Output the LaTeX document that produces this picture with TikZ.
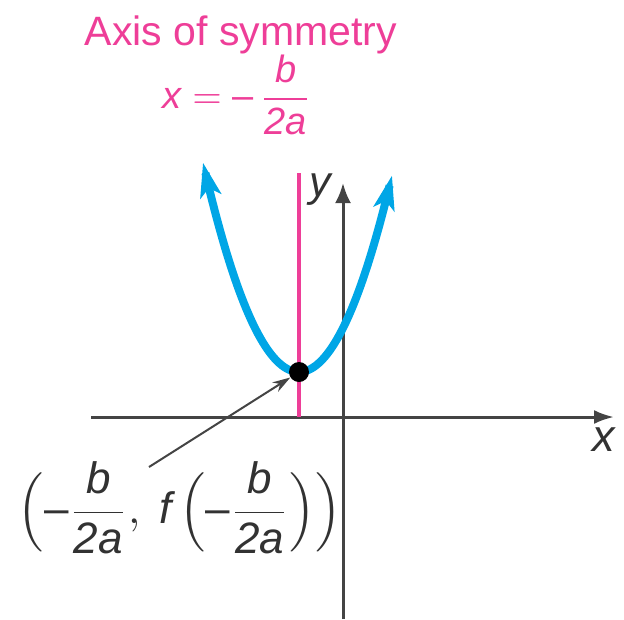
\documentclass[tikz,border=0pt]{standalone}
\usepackage{fontspec}
\setmainfont{Liberation Sans}
\usetikzlibrary{arrows.meta}
\definecolor{pinkc}{RGB}{238,62,152}
\definecolor{bluec}{RGB}{0,166,230}
\definecolor{axisc}{RGB}{68,68,68}
\definecolor{labc}{RGB}{50,50,50}
\newcommand{\mymin}{\mbox{\textendash}}
\begin{document}
\begin{tikzpicture}[x=1pt,y=-1pt,
  axisline/.style={draw=axisc, line width=3pt},
  pinktext/.style={text=pinkc, inner sep=0pt},
  graytext/.style={text=labc, inner sep=0pt}]
\useasboundingbox (0,0) rectangle (624,619);
% title
\node[pinktext, scale=4.1, anchor=base] (title) at (241,45) {Axis of symmetry};
\node[pinktext, scale=3.8] (axeq) at (237,95) {$\displaystyle\textit{x} = \mymin\,\frac{\textit{b}}{\textit{2a}}$};
% axes
\coordinate (xl) at (91,417);
\coordinate (xr) at (614,417);
\coordinate (yb) at (343,619);
\coordinate (yt) at (343,183);
\draw[axisline, -{Latex[length=20pt,width=14pt]}] (xl) -- (xr);
\draw[axisline, -{Latex[length=20pt,width=16pt]}] (yb) -- (yt);
\node[graytext, scale=4.5] (xlab) at (604,440) {\textit{x}};
\node[graytext, scale=4.3] (ylab) at (321,190) {\textit{y}};
% axis of symmetry line
\coordinate (st) at (299,173);
\coordinate (sb) at (299,417);
\draw[pinkc, line width=4pt] (st) -- (sb);
% parabola
\draw[bluec, line width=8pt, {Stealth[length=34pt,width=21pt,inset=8pt]}-{Stealth[length=34pt,width=21pt,inset=8pt]}]
  plot[domain=-96:93, samples=80] ({\x+299}, {372-205*(\x/95)^2});
% vertex
\node[circle, fill=black, minimum size=20pt, inner sep=0pt] (v) at (299,372) {};
% label
\node[graytext, scale=4.4] (lab) at (180,508) {$\displaystyle\Bigl(\mymin\frac{\textit{b}}{\textit{2a}},\;\textit{f}\,\Bigl(\mymin\frac{\textit{b}}{\textit{2a}}\Bigr)\Bigr)$};
\coordinate (ps) at (149,467);
\draw[axisc, line width=2pt, -{Stealth[length=18pt,width=11pt]}] (ps) -- (v);
\end{tikzpicture}
\end{document}
